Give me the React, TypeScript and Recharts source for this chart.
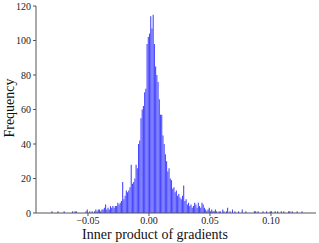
import React from "react";
import { BarChart, Bar, XAxis, YAxis } from "recharts";

// histogram: bins of width 0.001 starting at -0.085
const binStart = -0.085;
const binWidth = 0.001;
const counts = [
  0, 0, 0, 0, 0, 1, 0, 0, 0, 0,
  1, 0, 0, 0, 0, 1, 0, 0, 0, 0,
  0, 0, 1, 0, 1, 1, 0, 0, 0, 0,
  0, 0, 0, 1, 2, 0, 1, 0, 1, 0,
  1, 2, 1, 2, 2, 1, 2, 2, 3, 5,
  2, 3, 2, 4, 3, 4, 3, 4, 4, 6,
  5, 6, 7, 18, 8, 10, 13, 12, 13, 15,
  28, 17, 18, 20, 28, 26, 40, 42, 55, 60,
  62, 70, 72, 98, 102, 104, 114, 107, 115, 98,
  85, 80, 76, 66, 57, 57, 45, 40, 34, 30,
  24, 26, 20, 19, 14, 15, 12, 13, 10, 11,
  9, 8, 10, 16, 7, 8, 5, 6, 4, 5,
  3, 4, 6, 5, 3, 6, 4, 3, 6, 5,
  3, 2, 1, 2, 3, 1, 2, 1, 1, 2,
  1, 0, 1, 1, 0, 2, 1, 0, 1, 3,
  0, 1, 0, 2, 0, 1, 0, 0, 1, 0,
  0, 2, 0, 0, 1, 0, 0, 0, 0, 0,
  0, 1, 1, 0, 1, 0, 0, 0, 1, 0,
  0, 1, 0, 0, 1, 1, 0, 0, 1, 0,
  1, 0, 0, 1, 0, 1, 0, 0, 0, 1,
  1, 0, 1, 0, 0, 0, 1, 0, 0, 0,
  1, 0, 0, 0, 0,
];

const xTicks = [-0.05, 0, 0.05, 0.1];
const yTicks = [0, 20, 40, 60, 80, 100, 120];

const data = counts.map((c, i) => ({
  x: binStart + binWidth * (i + 0.5),
  count: c,
}));

const FONT = '"Liberation Serif", "DejaVu Serif", serif';
const SPINE = "#555";

const fmtX = (v: number) => {
  const s = Math.abs(v).toFixed(2);
  return v < 0 ? "\u2212" + s : s;
};

export default function App() {
  return (
    <div style={{ position: "absolute", left: 0, top: 0, background: "#fff" }}>
      <BarChart
        width={319}
        height={243}
        data={data}
        margin={{ top: 6, right: 3, bottom: 0, left: 0 }}
        barCategoryGap={0}
        barGap={0}
      >
        <XAxis
          dataKey="x"
          type="number"
          domain={[-0.0926, 0.1369]}
          allowDataOverflow
          ticks={xTicks}
          tickFormatter={fmtX}
          height={30}
          tickSize={3}
          tickMargin={1}
          tick={{ fontSize: 10, fill: "#222", fontFamily: FONT }}
          stroke={SPINE}
          label={{
            content: () => (
              <text
                x={155}
                y={239}
                textAnchor="middle"
                fontSize={14}
                fontFamily={FONT}
                fill="#111"
              >
                Inner product of gradients
              </text>
            ),
          }}
        />
        <XAxis
          xAxisId="top"
          orientation="top"
          dataKey="x"
          type="number"
          domain={[-0.0926, 0.1369]}
          height={0}
          tick={false}
          tickLine={false}
          stroke={SPINE}
        />
        <YAxis
          type="number"
          domain={[0, 120]}
          ticks={yTicks}
          width={36}
          tickSize={3}
          tick={{ fontSize: 10, fill: "#222", fontFamily: FONT }}
          stroke={SPINE}
          label={{
            content: () => (
              <text
                x={0}
                y={0}
                transform="translate(14,108) rotate(-90)"
                textAnchor="middle"
                fontSize={14}
                fontFamily={FONT}
                fill="#111"
              >
                Frequency
              </text>
            ),
          }}
        />
        <YAxis
          yAxisId="right"
          orientation="right"
          domain={[0, 120]}
          width={0}
          tick={false}
          tickLine={false}
          stroke={SPINE}
        />
        <Bar
          dataKey="count"
          fill="#4848ff"
          barSize={1.6}
          isAnimationActive={false}
        />
      </BarChart>
    </div>
  );
}
